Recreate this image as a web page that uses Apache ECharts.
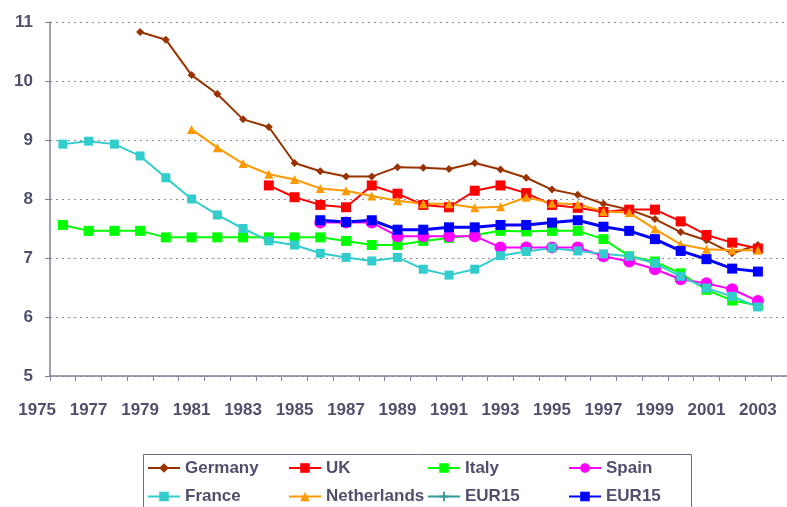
<!DOCTYPE html>
<html>
<head>
<meta charset="utf-8">
<script src="https://cdn.jsdelivr.net/npm/echarts@6/dist/echarts.min.js"></script>
<style>
  html, body { margin: 0; padding: 0; background: #fff; }
  #main { width: 787px; height: 507px; }
</style>
</head>
<body>
<div id="main"></div>
<script>
// years on the x axis, one value per year (null = no data)
const years = [1976, 1977, 1978, 1979, 1980, 1981, 1982, 1983, 1984, 1985, 1986, 1987, 1988, 1989,
  1990, 1991, 1992, 1993, 1994, 1995, 1996, 1997, 1998, 1999, 2000, 2001, 2002, 2003];

const germany = [null, null, null, 10.83, 10.70, 10.10, 9.78, 9.35, 9.22, 8.61, 8.47, 8.38, 8.38, 8.54,
  8.53, 8.51, 8.61, 8.50, 8.36, 8.16, 8.07, 7.92, 7.82, 7.66, 7.44, 7.30, 7.08, 7.22];
const uk = [null, null, null, null, null, null, null, null, 8.23, 8.03, 7.90, 7.86, 8.23, 8.09,
  7.90, 7.86, 8.14, 8.23, 8.10, 7.90, 7.85, 7.78, 7.82, 7.82, 7.62, 7.39, 7.26, 7.16];
const italy = [7.56, 7.46, 7.46, 7.46, 7.35, 7.35, 7.35, 7.35, 7.35, 7.35, 7.35, 7.29, 7.22, 7.22,
  7.29, 7.34, 7.39, 7.46, 7.45, 7.46, 7.46, 7.32, 7.03, 6.94, 6.74, 6.46, 6.28, 6.20];
const spain = [null, null, null, null, null, null, null, null, null, null, 7.60, 7.60, 7.60, 7.37,
  7.37, 7.37, 7.37, 7.18, 7.18, 7.18, 7.18, 7.03, 6.94, 6.81, 6.64, 6.57, 6.47, 6.27];
const france = [8.93, 8.98, 8.93, 8.73, 8.36, 8.00, 7.73, 7.50, 7.29, 7.22, 7.08, 7.01, 6.95, 7.01,
  6.81, 6.71, 6.81, 7.04, 7.11, 7.17, 7.12, 7.07, 7.03, 6.91, 6.69, 6.49, 6.35, 6.17];
const netherlands = [null, null, null, null, null, 9.18, 8.87, 8.60, 8.42, 8.33, 8.18, 8.14, 8.05, 7.97,
  7.92, 7.92, 7.85, 7.87, 8.03, 7.93, 7.91, 7.79, 7.77, 7.49, 7.23, 7.15, 7.13, 7.13];
const eur15Thin = []; // only shown in the legend
const eur15 = [null, null, null, null, null, null, null, null, null, null, 7.64, 7.61, 7.64, 7.48,
  7.48, 7.52, 7.52, 7.56, 7.56, 7.60, 7.64, 7.53, 7.46, 7.32, 7.12, 6.98, 6.82, 6.77];

const xLabelStart = 1975; // labels 1975, 1977 ... 2003
const xLabelStep = 2;

const textColor = "#50506e";
const axisColor = "#80809c";
const font = "Liberation Sans, Arial, sans-serif";

const pairs = (vals) => years.map((y, i) => [y, vals[i]]);

const mkSeries = (name, vals, color, symbol, size, width) => ({
  name: name,
  type: "line",
  data: pairs(vals),
  xAxisIndex: 0,
  yAxisIndex: 0,
  symbol: symbol,
  symbolSize: size,
  showAllSymbol: true,
  connectNulls: false,
  lineStyle: { color: color, width: width },
  itemStyle: { color: color },
  emphasis: { disabled: true },
});

const plusPath = "path://M4,0H6V4H10V6H6V10H4V6H0V4H4Z";

const legendBase = {
  orient: "vertical",
  top: 458,
  padding: 0,
  itemWidth: 32,
  itemHeight: 12,
  itemGap: 8.5,
  selectedMode: false,
  textStyle: {
    color: textColor,
    fontFamily: font,
    fontWeight: "bold",
    fontSize: 17,
    lineHeight: 20,
  },
};

const chart = echarts.init(document.getElementById("main"));

chart.setOption({
  animation: false,
  backgroundColor: "#fff",
  grid: [
    { left: 50, right: 0, top: 22, bottom: 131, containLabel: false },
    { left: 37.13, right: 0, top: 22, bottom: 131, containLabel: false },
  ],
  xAxis: [
    {
      type: "value",
      gridIndex: 0,
      min: 1975.5,
      max: 2004.13,
      interval: 1,
      axisLine: { show: true, lineStyle: { color: axisColor, width: 1.5 } },
      axisTick: { show: true, inside: false, length: 5, lineStyle: { color: axisColor, width: 1 } },
      axisLabel: { show: false },
      splitLine: { show: false },
    },
    {
      type: "value",
      gridIndex: 1,
      min: xLabelStart,
      max: 2004.13,
      interval: xLabelStep,
      axisLine: { show: false },
      axisTick: { show: false },
      splitLine: { show: false },
      axisLabel: {
        show: true,
        margin: 26,
        showMinLabel: true,
        showMaxLabel: false,
        color: textColor,
        fontFamily: font,
        fontWeight: "bold",
        fontSize: 17,
        formatter: (v) =>
          Number.isInteger(v) && (v - xLabelStart) % xLabelStep === 0 ? String(v) : "",
      },
    },
  ],
  yAxis: [
    {
      type: "value",
      gridIndex: 0,
      min: 5,
      max: 11,
      interval: 1,
      axisLine: { show: true, lineStyle: { color: axisColor, width: 1.5 } },
      axisTick: { show: true, length: 5, lineStyle: { color: axisColor, width: 1 } },
      axisLabel: {
        margin: 17,
        color: textColor,
        fontFamily: font,
        fontWeight: "bold",
        fontSize: 17,
      },
      splitLine: { show: true, lineStyle: { color: "#8a8aa6", width: 1, type: [2, 4] } },
    },
    {
      type: "value",
      gridIndex: 1,
      min: 5,
      max: 11,
      show: false,
    },
  ],
  legend: [
    Object.assign({}, legendBase, { left: 147, data: ["Germany", "France"] }),
    Object.assign({}, legendBase, { left: 288, data: ["UK", "Netherlands"] }),
    Object.assign({}, legendBase, { left: 427, data: ["Italy", "EUR15"] }),
    Object.assign({}, legendBase, { left: 568, data: ["Spain", "EUR15 "] }),
  ],
  graphic: [
    {
      type: "rect",
      shape: { x: 143.5, y: 454.5, width: 548, height: 70 },
      style: { fill: "none", stroke: "#6a6a88", lineWidth: 1 },
      silent: true,
    },
  ],
  series: [
    mkSeries("Germany", germany, "#993300", "diamond", 8, 2),
    mkSeries("UK", uk, "#ff0000", "rect", 10, 2),
    mkSeries("Italy", italy, "#00ff00", "rect", 10, 2),
    mkSeries("Spain", spain, "#ff00ff", "circle", 12, 2),
    mkSeries("France", france, "#33cccc", "rect", 9, 2),
    mkSeries("Netherlands", netherlands, "#ff9900", "triangle", 9, 2),
    mkSeries("EUR15", eur15Thin, "#339999", plusPath, 7, 1.5),
    mkSeries("EUR15 ", eur15, "#0000ff", "rect", 10, 3),
  ],
});
</script>
</body>
</html>
